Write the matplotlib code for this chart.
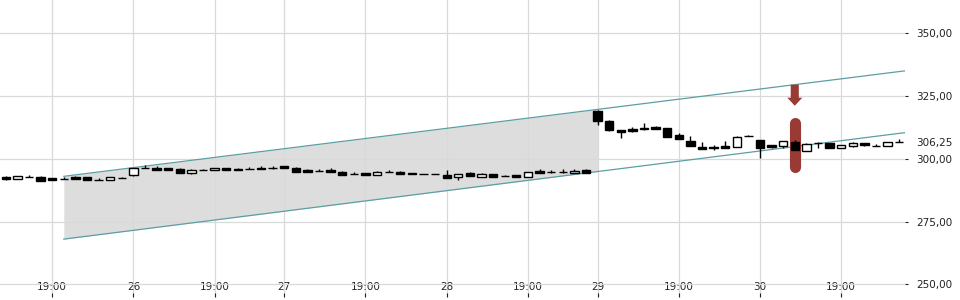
import numpy as np
import matplotlib
matplotlib.use("Agg")
from matplotlib import pyplot as plt
from matplotlib.patches import FancyArrowPatch
from matplotlib.ticker import FuncFormatter
import matplotlib.transforms as mtransforms

plt.rcParams['font.family'] = 'DejaVu Sans'
plt.rcParams['font.size'] = 7.5

# candles (open, high, low, close), one per bar
opens = [292.9, 292.1, 292.7, 292.9, 292.2, 292.0, 292.7, 292.7, 291.7, 291.5,
         292.5, 293.4, 296.4, 296.4, 296.3, 296.1, 294.4, 295.7, 295.6, 296.4,
         296.1, 296.0, 296.5, 296.4, 297.2, 296.5, 295.5, 295.3, 295.6, 294.9,
         294.1, 294.3, 293.6, 294.9, 294.9, 294.4, 293.9, 293.9, 293.4, 292.6,
         294.2, 292.9, 294.0, 293.1, 293.5, 292.9, 295.1, 294.6, 294.6, 294.3,
         295.4, 318.9, 315.2, 311.3, 311.7, 312.4, 312.5, 312.3, 309.4, 306.9,
         304.8, 304.8, 304.9, 304.8, 309.2, 307.5, 305.3, 305.2, 306.5, 303.2,
         306.1, 306.1, 304.4, 304.9, 306.1, 305.2, 305.2, 306.6]
highs = [293.1, 293.3, 293.5, 293.0, 292.3, 292.6, 293.3, 292.8, 292.3, 292.6,
         292.6, 296.5, 297.5, 297.2, 296.4, 296.2, 295.8, 296.1, 296.5, 296.5,
         296.2, 296.6, 297.0, 297.2, 297.3, 296.6, 296.0, 295.8, 296.2, 295.0,
         294.7, 294.4, 295.0, 295.6, 295.0, 294.5, 294.0, 294.0, 295.4, 293.9,
         294.6, 294.3, 294.1, 293.5, 293.6, 294.9, 295.8, 295.6, 296.0, 296.0,
         295.8, 319.6, 315.3, 311.4, 312.5, 314.3, 312.9, 312.4, 310.2, 309.0,
         306.5, 305.3, 306.9, 309.2, 309.3, 307.6, 305.6, 307.2, 307.3, 306.1,
         306.6, 306.2, 305.4, 306.6, 306.2, 306.0, 306.6, 307.7]
lows = [291.7, 292.0, 292.6, 291.2, 291.4, 291.9, 292.0, 291.4, 291.6, 291.4,
        292.4, 293.3, 296.3, 295.5, 295.5, 294.3, 293.8, 295.6, 295.5, 295.5,
        295.4, 295.9, 295.8, 295.9, 296.2, 294.7, 294.7, 295.2, 294.7, 293.5,
        294.0, 293.5, 293.5, 294.8, 294.0, 293.8, 293.8, 293.8, 292.2, 291.7,
        293.2, 292.8, 292.8, 293.0, 292.8, 292.8, 294.3, 294.5, 294.5, 294.2,
        294.2, 313.3, 311.2, 308.3, 310.6, 311.6, 311.8, 308.6, 307.7, 305.1,
        303.9, 303.6, 304.1, 304.7, 309.1, 300.2, 304.2, 304.4, 303.3, 303.1,
        304.3, 304.3, 304.3, 304.8, 305.2, 305.1, 305.1, 306.5]
closes = [291.9, 293.2, 292.7, 291.3, 291.5, 292.0, 292.0, 291.5, 291.7, 292.6,
          292.5, 296.4, 296.4, 295.6, 295.6, 294.4, 295.7, 295.7, 296.4, 295.6,
          295.5, 296.0, 295.9, 296.4, 296.3, 294.8, 294.8, 295.3, 294.8, 293.6,
          294.1, 293.6, 294.9, 294.9, 294.1, 293.9, 293.9, 293.9, 292.3, 293.8,
          293.3, 293.8, 292.9, 293.1, 292.9, 294.8, 294.4, 294.6, 294.6, 295.2,
          294.3, 314.9, 311.3, 310.7, 311.1, 311.7, 311.9, 308.7, 307.8, 305.2,
          304.0, 304.2, 304.2, 308.7, 309.2, 304.2, 304.6, 307.1, 303.4, 306.0,
          306.1, 304.4, 305.3, 306.1, 305.3, 305.2, 306.5, 306.6]

# x axis labels at bar positions
tick_pos = [4, 11, 18, 24, 31, 38, 45, 51, 58, 65, 72]
tick_labels = ["19:00", "26", "19:00", "27", "19:00", "28",
               "19:00", "29", "19:00", "30", "19:00"]
y_ticks = [250, 275, 300, 325, 350]
last_price = 306.25

# trend channel
chan_x = [5, 77.5]
chan_upper = [293.0, 335.0]
chan_lower = [268.0, 310.4]
fill_end = 51

# signal marker
sig_x = 68
sig_bar = [296.9, 314.1]
sig_arrow = [329.5, 321.1]
sig_color = "#993a34"

fig = plt.figure(figsize=(9.6, 3.0), dpi=100)
ax = fig.add_axes([0, 0.01, 905 / 960, 0.99])

x = np.arange(len(opens))
o = np.array(opens)
c = np.array(closes)

# shaded part of channel
slope_u = (chan_upper[1] - chan_upper[0]) / (chan_x[1] - chan_x[0])
slope_l = (chan_lower[1] - chan_lower[0]) / (chan_x[1] - chan_x[0])
fx = np.array([chan_x[0], fill_end])
ax.fill_between(fx, chan_lower[0] + slope_l * (fx - chan_x[0]),
                chan_upper[0] + slope_u * (fx - chan_x[0]),
                color="#dddddd", lw=0, zorder=0.2)
ax.plot(chan_x, chan_upper, color="#5c9ea4", lw=0.9, zorder=1.5)
ax.plot(chan_x, chan_lower, color="#5c9ea4", lw=0.9, zorder=1.5)

# signal bar + arrow (behind candles)
ax.plot([sig_x, sig_x], sig_bar, color=sig_color, lw=8, solid_capstyle="round", zorder=1.8)
arr = FancyArrowPatch((sig_x, sig_arrow[0]), (sig_x, sig_arrow[1]),
                      arrowstyle="simple,head_length=0.58,head_width=1.08,tail_width=0.58",
                      mutation_scale=10, color=sig_color, lw=0, shrinkA=0, shrinkB=0, zorder=1.8)
ax.add_patch(arr)

# candles
ax.vlines(x, lows, highs, color="black", lw=1, zorder=2)
face = np.where(c < o, "black", "white")
ax.bar(x, np.abs(c - o), bottom=np.minimum(o, c), width=0.72,
       color=face, edgecolor="black", linewidth=1, zorder=3)

ax.set_xlim(-0.5, 77.5)
ax.set_ylim(244.96, 363.2)

ax.set_xticks(tick_pos)
ax.set_xticklabels(tick_labels)
ax.set_yticks(y_ticks)
ax.yaxis.set_major_formatter(FuncFormatter(lambda v, p: ("%.2f" % v).replace(".", ",")))
ax.yaxis.tick_right()
ax.tick_params(axis="y", direction="out", length=2.5, pad=5.5, colors="#222222")
ax.tick_params(axis="x", direction="in", length=3, pad=-10.5, colors="#222222")

ax.grid(True, color="#d9d9d9", lw=0.9)
ax.set_axisbelow(True)
for s in ax.spines.values():
    s.set_visible(False)

# last price label on the right, no tick
trans = mtransforms.blended_transform_factory(ax.transAxes, ax.transData)
ax.text(1.0 + 11 / 905, last_price, ("%.2f" % last_price).replace(".", ","),
        transform=trans, ha="left", va="center", color="#222222")

fig.savefig("out.png", dpi=100)
